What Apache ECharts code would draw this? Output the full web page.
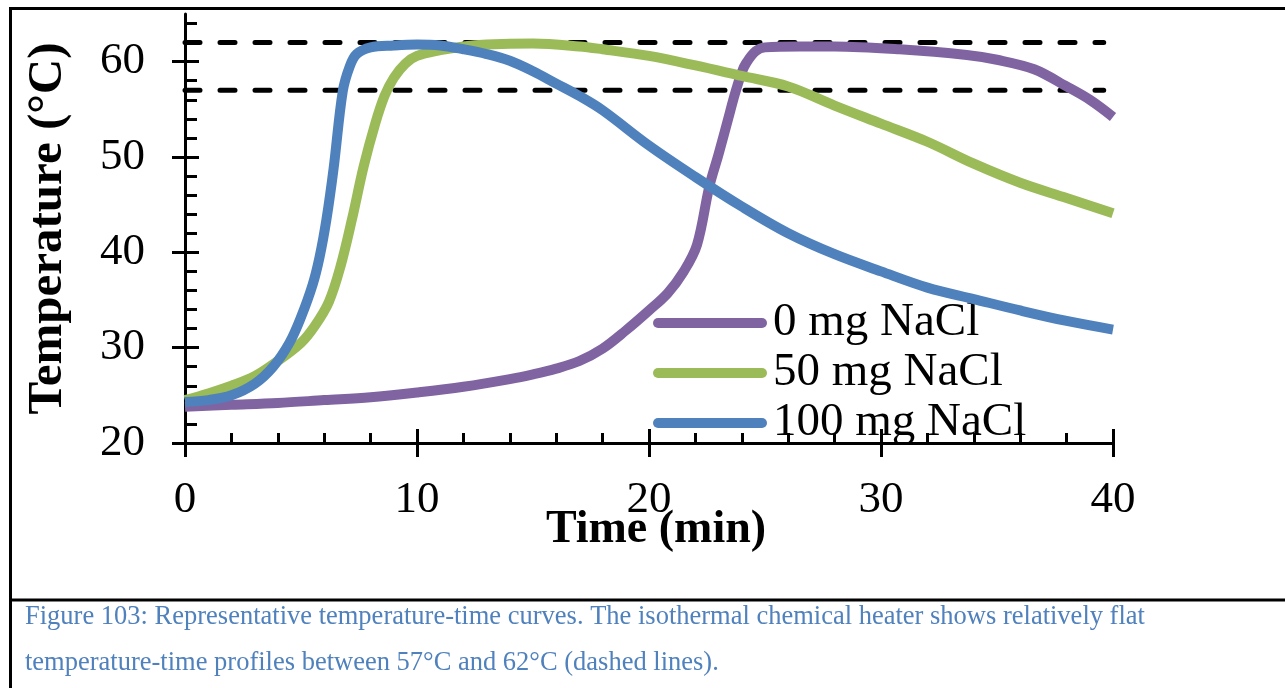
<!DOCTYPE html>
<html>
<head>
<meta charset="utf-8">
<script src="https://cdn.jsdelivr.net/npm/echarts@6/dist/echarts.min.js"></script>
<style>
html,body{margin:0;padding:0;background:#fff;}
#c{width:1285px;height:688px;}
</style>
</head>
<body>
<div id="c"></div>
<script>
// ---- data ----
const seriesNames = ['0 mg NaCl', '50 mg NaCl', '100 mg NaCl'];
const seriesColors = ['#8064a2', '#9bbb59', '#4f81bd'];

const time0 = [0, 2, 4, 6, 8, 10, 12, 14, 15, 16, 17, 18, 19, 20, 20.8, 21.5, 22.07, 22.6, 23, 23.5, 23.7, 24, 24.2, 24.6, 25, 26.5, 28, 30.8, 33.7, 35, 36.6, 38, 39, 40];
const temp0 = [23.8, 24.0, 24.2, 24.5, 24.8, 25.3, 25.9, 26.7, 27.2, 27.8, 28.6, 29.9, 31.8, 33.9, 35.7, 38.0, 40.8, 46.9, 50.3, 54.8, 56.6, 58.9, 59.9, 61.1, 61.5, 61.6, 61.6, 61.3, 60.7, 60.2, 59.2, 57.4, 56.0, 54.2];

const time50 = [0, 1, 2, 3, 4, 5, 5.6, 6.2, 6.7, 7.2, 7.7, 8.2, 8.6, 9, 9.5, 10, 11, 12, 13, 15, 17, 18, 20, 22, 24, 26, 28, 30, 32, 34, 36, 38, 40];
const temp50 = [24.5, 25.2, 26.0, 27.0, 28.6, 30.5, 32.3, 34.8, 38.5, 43.5, 49.0, 53.5, 56.4, 58.3, 59.8, 60.6, 61.2, 61.6, 61.8, 61.9, 61.6, 61.3, 60.6, 59.6, 58.5, 57.4, 55.4, 53.5, 51.6, 49.3, 47.3, 45.7, 44.1];

const time100 = [0, 1, 2, 3, 3.8, 4.5, 5, 5.5, 5.8, 6.1, 6.4, 6.8, 7.1, 7.4, 8, 9, 10, 11, 12, 13, 14, 15, 16, 17, 18, 20, 22, 24, 26, 28, 30, 32, 34, 36, 38, 40];
const temp100 = [24.3, 24.5, 25.0, 26.2, 28.0, 30.5, 33.2, 36.6, 39.5, 43.5, 48.7, 56.9, 59.5, 60.8, 61.5, 61.7, 61.8, 61.7, 61.3, 60.8, 60.1, 59.0, 57.7, 56.4, 54.9, 51.2, 47.9, 44.8, 42.0, 39.8, 38.0, 36.3, 35.1, 33.9, 32.8, 31.9];

const dashedLevels = [57, 62];
const dashedRange = [0, 39.6];

const xMajorTicks = [0, 10, 20, 30, 40];
const xMinorTicks = [2, 4, 6, 8, 12, 14, 16, 18, 22, 24, 26, 28, 32, 34, 36, 38];
const yMajorTicks = [20, 30, 40, 50, 60];
const yMinorTicks = [22, 24, 26, 28, 32, 34, 36, 38, 42, 44, 46, 48, 52, 54, 56, 58, 62, 64];

const xTitle = 'Time (min)';
const yTitle = 'Temperature (°C)';
const captionLines = [
  'Figure 103: Representative temperature-time curves. The isothermal chemical heater shows relatively flat',
  'temperature-time profiles between 57°C and 62°C (dashed lines).'
];

// ---- chart ----
const SERIF = '"Liberation Serif", "Times New Roman", serif';
const pair = (ts, vs) => ts.map((t, i) => [t, vs[i]]);
const curves = [pair(time0, temp0), pair(time50, temp50), pair(time100, temp100)];

const chart = echarts.init(document.getElementById('c'), null, {renderer: 'canvas'});

function xAxisBase(extra) {
  return Object.assign({
    type: 'value', min: 0, max: 40, position: 'bottom',
    splitLine: {show: false},
    axisLine: {show: false},
    axisLabel: {show: false},
    axisTick: {show: false}
  }, extra);
}
function yAxisBase(extra) {
  return Object.assign({
    type: 'value', min: 20, max: 65, position: 'left',
    splitLine: {show: false},
    axisLine: {show: false},
    axisLabel: {show: false},
    axisTick: {show: false}
  }, extra);
}

const legendIcon = 'path://M5,0H109A5,5,0,0,1,109,10H5A5,5,0,0,1,5,0Z';

const option = {
  backgroundColor: '#fff',
  animation: false,
  grid: {left: 185, right: 172, top: 14, bottom: 245, containLabel: false},
  xAxis: [
    xAxisBase({
      axisLine: {show: true, onZero: false, lineStyle: {color: '#000', width: 3}},
      axisTick: {show: true, inside: false, length: 14, lineStyle: {color: '#000', width: 3}, customValues: xMajorTicks},
      axisLabel: {show: true, customValues: xMajorTicks, fontFamily: SERIF, fontSize: 45, color: '#000', margin: 35},
      name: xTitle, nameLocation: 'middle', nameGap: 64, nameMoveOverlap: false,
      nameTextStyle: {fontFamily: SERIF, fontSize: 46, fontWeight: 'bold', color: '#000', padding: [0, 0, 0, 14]}
    }),
    xAxisBase({axisTick: {show: true, inside: true, length: 14, lineStyle: {color: '#000', width: 3}, customValues: xMajorTicks}}),
    xAxisBase({axisTick: {show: true, inside: true, length: 10, lineStyle: {color: '#000', width: 3}, customValues: xMinorTicks}})
  ],
  yAxis: [
    yAxisBase({
      axisLine: {show: true, onZero: false, lineStyle: {color: '#000', width: 3}},
      axisTick: {show: true, inside: false, length: 13, lineStyle: {color: '#000', width: 3}, customValues: yMajorTicks},
      axisLabel: {show: true, customValues: yMajorTicks, fontFamily: SERIF, fontSize: 45, color: '#000', margin: 40},
      name: yTitle, nameLocation: 'middle', nameGap: 112, nameRotate: 90, nameMoveOverlap: false,
      nameTextStyle: {fontFamily: SERIF, fontSize: 49, fontWeight: 'bold', color: '#000'}
    }),
    yAxisBase({axisTick: {show: true, inside: true, length: 14, lineStyle: {color: '#000', width: 3}, customValues: yMajorTicks}}),
    yAxisBase({axisTick: {show: true, inside: true, length: 12, lineStyle: {color: '#000', width: 3}, customValues: yMinorTicks}})
  ],
  legend: {
    show: true,
    data: seriesNames,
    orient: 'vertical',
    left: 653, top: 298,
    icon: legendIcon,
    itemWidth: 114, itemHeight: 10,
    itemGap: 0,
    padding: 0,
    textStyle: {fontFamily: SERIF, fontSize: 47, color: '#000', lineHeight: 50, padding: [0, 0, 0, 1]},
    inactiveColor: '#ccc'
  },
  series: [
    ...dashedLevels.map((lv, i) => ({
      name: 'dashed' + i,
      type: 'line',
      xAxisIndex: 0, yAxisIndex: 0,
      data: dashedRange.map(t => [t, lv]),
      symbol: 'none',
      silent: true,
      z: 1,
      lineStyle: {color: '#000', width: 5, type: [15, 20], cap: 'round'}
    })),
    ...curves.map((d, i) => ({
      name: seriesNames[i],
      type: 'line',
      xAxisIndex: 0, yAxisIndex: 0,
      data: d,
      symbol: 'none',
      smooth: 0.35,
      z: 2 + i,
      itemStyle: {color: seriesColors[i]},
      lineStyle: {color: seriesColors[i], width: 10, cap: 'butt', join: 'round'}
    }))
  ],
  graphic: [
    {type: 'line', shape: {x1: 10, y1: 8.5, x2: 1285, y2: 8.5}, style: {stroke: '#000', lineWidth: 3}, silent: true},
    {type: 'line', shape: {x1: 10.5, y1: 7, x2: 10.5, y2: 688}, style: {stroke: '#000', lineWidth: 3}, silent: true},
    {type: 'line', shape: {x1: 10, y1: 600, x2: 1285, y2: 600}, style: {stroke: '#000', lineWidth: 3}, silent: true},
    {type: 'text', left: 25, top: 604, style: {text: captionLines[0], font: '26.5px ' + SERIF, fill: '#4f81bd'}, silent: true},
    {type: 'text', left: 25, top: 650, style: {text: captionLines[1], font: '26.5px ' + SERIF, fill: '#4f81bd'}, silent: true}
  ]
};
chart.setOption(option);
</script>
</body>
</html>
